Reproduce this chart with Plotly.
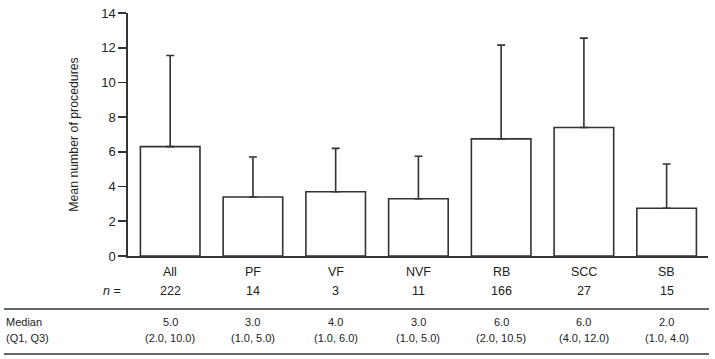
import plotly.graph_objects as go

categories = ["All", "PF", "VF", "NVF", "RB", "SCC", "SB"]
means = [6.3, 3.4, 3.7, 3.3, 6.75, 7.4, 2.75]
sd = [5.25, 2.3, 2.5, 2.45, 5.4, 5.15, 2.55]
n_counts = [222, 14, 3, 11, 166, 27, 15]
medians = [5.0, 3.0, 4.0, 3.0, 6.0, 6.0, 2.0]
q1 = [2.0, 1.0, 1.0, 1.0, 2.0, 4.0, 1.0]
q3 = [10.0, 5.0, 6.0, 5.0, 10.5, 12.0, 4.0]
y_ticks = [0, 2, 4, 6, 8, 10, 12, 14]

FONT = "Liberation Sans, Arial, sans-serif"
LINE = "#333333"
TXT = "#222222"

W, H = 715, 359
ML, MR, MT, MB = 128, 7, 13, 103
plot_w = W - ML - MR
plot_h = H - MT - MB

fig = go.Figure()
fig.add_trace(go.Bar(
    x=list(range(len(categories))), y=means,
    width=0.72,
    marker=dict(color="white", line=dict(color=LINE, width=1.6)),
    error_y=dict(type="data", array=sd, arrayminus=[0] * len(sd), symmetric=False,
                 color=LINE, thickness=1.6, width=4),
    showlegend=False,
    hoverinfo="skip",
))

def py_shift(py):
    return -(py - (H - MB))

def ann(x, text, py, size, xref="x", xanchor="center"):
    return dict(x=x, y=0, xref=xref, yref="paper", text=text, showarrow=False,
                xanchor=xanchor, yanchor="middle", yshift=py_shift(py),
                font=dict(size=size, color=TXT, family=FONT))

def paper_y(py):
    return ((H - MB) - py) / plot_h

def paper_x(px):
    return (px - ML) / plot_w

annotations = []
for i, c in enumerate(categories):
    annotations.append(ann(i, c, 272, 12.5))
    annotations.append(ann(i, str(n_counts[i]), 291, 12.5))
    annotations.append(ann(i, f"{medians[i]:.1f}", 322, 11))
    annotations.append(ann(i, f"({q1[i]:.1f}, {q3[i]:.1f})", 338, 11))

annotations.append(ann(paper_x(123), "<i>n</i> =", 291, 12.5, xref="paper", xanchor="right"))
annotations.append(ann(paper_x(4), "Median", 322, 11, xref="paper", xanchor="left"))
annotations.append(ann(paper_x(4), "(Q1, Q3)", 338, 11, xref="paper", xanchor="left"))

shapes = []
for py in (309, 354):
    shapes.append(dict(type="line", xref="paper", yref="paper",
                       x0=paper_x(4), x1=paper_x(709), y0=paper_y(py), y1=paper_y(py),
                       line=dict(color=LINE, width=1.6)))

fig.update_layout(
    width=W, height=H,
    margin=dict(l=ML, r=MR, t=MT, b=MB, pad=0),
    paper_bgcolor="white", plot_bgcolor="white",
    font=dict(family=FONT, color=TXT, size=13),
    xaxis=dict(range=[-0.51, 6.5], showticklabels=False, ticks="", showline=True,
               linecolor=LINE, linewidth=1.6, showgrid=False, zeroline=False, fixedrange=True),
    yaxis=dict(range=[0, 14], tickvals=y_ticks, ticks="outside", ticklen=8, tickwidth=1.6,
               tickcolor=LINE, showline=True, linecolor=LINE, linewidth=1.6, showgrid=False,
               zeroline=False, tickfont=dict(size=13, family=FONT, color=TXT),
               automargin=False, fixedrange=True,
               title=dict(text="Mean number of procedures", font=dict(size=12.3, family=FONT, color=TXT),
                          standoff=20)),
    annotations=annotations,
    shapes=shapes,
)

fig.write_html("out.html",
               config={"displayModeBar": False, "staticPlot": True},
               post_script="document.body.style.margin='0';document.body.style.padding='0';"
                           "document.documentElement.style.overflow='hidden';")
